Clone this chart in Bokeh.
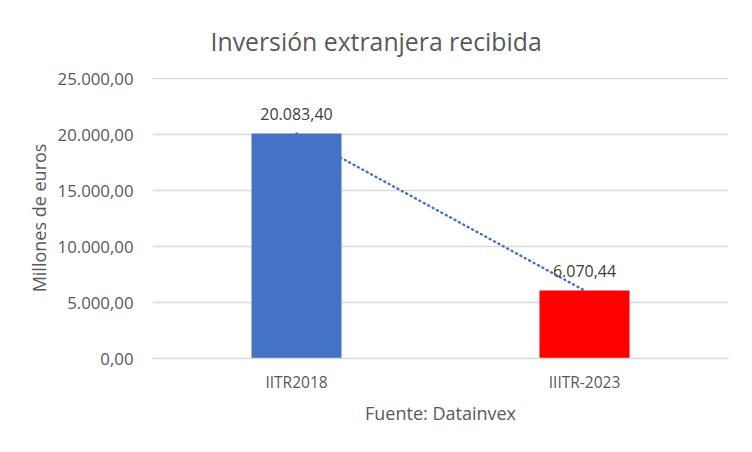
from bokeh.plotting import figure
from bokeh.models import ColumnDataSource, CustomJSTickFormatter, FixedTicker
from bokeh.core.properties import value
from bokeh.embed import file_html
from bokeh.resources import INLINE

# ---- data ----
categories = ["IITR2018", "IIITR-2023"]
values = [20083.40, 6070.44]
bar_colors = ["#4472C4", "#FF0000"]
y_ticks = [0, 5000, 10000, 15000, 20000, 25000]
title_text = "Inversión extranjera recibida"
y_title = "Millones de euros"
x_title = "Fuente: Datainvex"


def fmt_es(v):
    s = f"{v:,.2f}"
    return s.replace(",", "X").replace(".", ",").replace("X", ".")


labels = [fmt_es(v) for v in values]

FONT = "Open Sans"
TXT = "#595959"

src = ColumnDataSource(dict(cat=categories, val=values, color=bar_colors, label=labels))

p = figure(
    x_range=categories,
    y_range=(0, 25000 * 281 / 280),
    width=736,
    height=436,
    frame_width=576,
    frame_height=281,
    min_border_left=152,
    min_border_right=8,
    min_border_top=77,
    min_border_bottom=78,
    output_backend="svg",
    toolbar_location=None,
    tools="",
)
p.outline_line_color = None
p.background_fill_color = "white"
p.border_fill_color = "white"

# title
p.title.text = title_text
p.title.align = "left"
p.title.offset = 58
p.title.standoff = 40
p.title.vertical_align = "bottom"
p.title.text_font = FONT
p.title.text_font_size = "24.8px"
p.title.text_font_style = "normal"
p.title.text_color = TXT

# trendline (drawn beneath bars)
p.line(x=categories, y=values, line_color="#4472C4", line_width=2.4,
       line_dash="1 4", line_cap="round")

p.vbar(x="cat", top="val", width=0.3125, color="color", source=src, line_color=None)

p.text(x="cat", y="val", text="label", source=src, text_align="center",
       text_baseline="alphabetic", y_offset=-20, text_color="#404040",
       text_font=value(FONT), text_font_size="16px")

# axes styling
p.yaxis.ticker = FixedTicker(ticks=y_ticks)
p.yaxis.formatter = CustomJSTickFormatter(code="""
const parts = tick.toFixed(2).split('.');
parts[0] = parts[0].replace(/\\B(?=(\\d{3})+(?!\\d))/g, '.');
return parts.join(',');
""")
p.yaxis.axis_line_color = None
p.yaxis.major_tick_line_color = None
p.yaxis.minor_tick_line_color = None
p.yaxis.major_tick_out = 0
p.yaxis.major_tick_in = 0
p.yaxis.major_label_standoff = 19
p.yaxis.major_label_text_font = FONT
p.yaxis.major_label_text_font_size = "16.8px"
p.yaxis.major_label_text_color = TXT
p.yaxis.axis_label = y_title
p.yaxis.axis_label_text_font = FONT
p.yaxis.axis_label_text_font_size = "18px"
p.yaxis.axis_label_text_font_style = "normal"
p.yaxis.axis_label_text_color = TXT
p.yaxis.axis_label_standoff = 4

p.xaxis.axis_line_color = "#D9D9D9"
p.xaxis.axis_line_width = 1.5
p.xaxis.major_tick_line_color = None
p.xaxis.minor_tick_line_color = None
p.xaxis.major_tick_out = 0
p.xaxis.major_tick_in = 0
p.xaxis.major_label_standoff = 12
p.xaxis.major_label_text_font = FONT
p.xaxis.major_label_text_font_size = "15.5px"
p.xaxis.major_label_text_color = TXT
p.xaxis.axis_label = x_title
p.xaxis.axis_label_text_font = FONT
p.xaxis.axis_label_text_font_size = "18px"
p.xaxis.axis_label_text_font_style = "normal"
p.xaxis.axis_label_text_color = TXT
p.xaxis.axis_label_standoff = 5

p.xgrid.grid_line_color = None
p.ygrid.grid_line_color = "#D9D9D9"
p.ygrid.grid_line_width = 1.5

open("out.html", "w").write(file_html(p, INLINE))
